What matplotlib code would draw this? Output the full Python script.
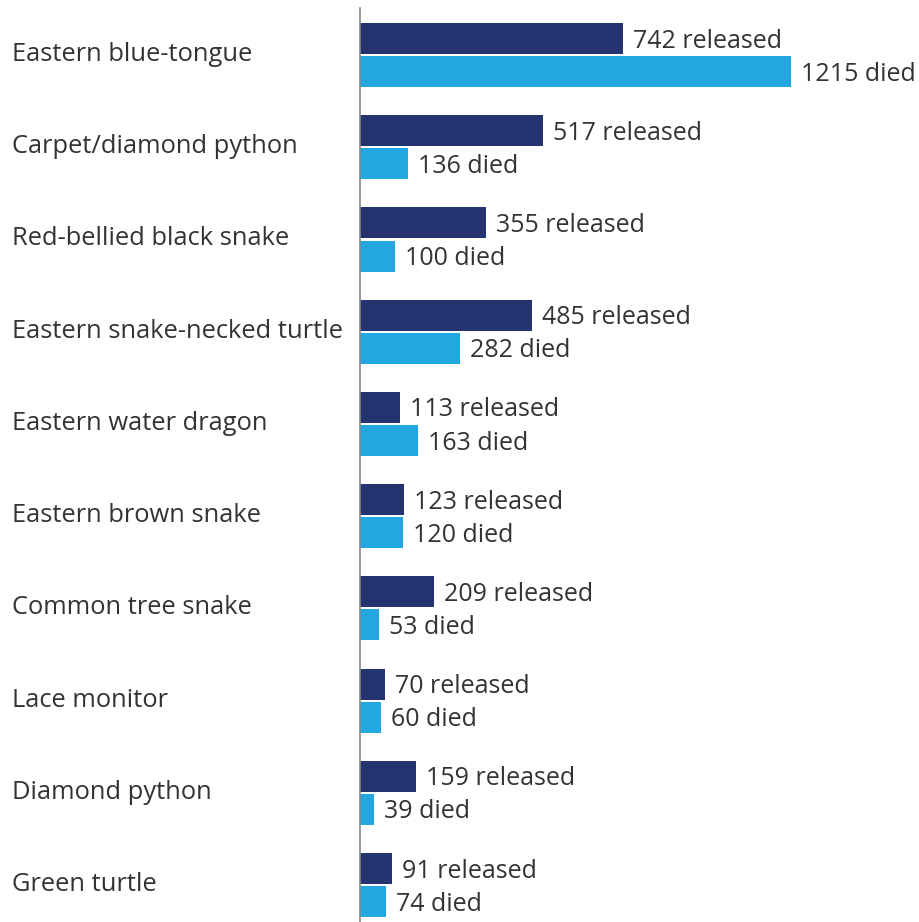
import matplotlib.pyplot as plt
import numpy as np

species = ["Eastern blue-tongue", "Carpet/diamond python", "Red-bellied black snake",
           "Eastern snake-necked turtle", "Eastern water dragon", "Eastern brown snake",
           "Common tree snake", "Lace monitor", "Diamond python", "Green turtle"]
released = [742, 517, 355, 485, 113, 123, 209, 70, 159, 91]
died = [1215, 136, 100, 282, 163, 120, 53, 60, 39, 74]

navy = "#253470"
sky = "#23a7e0"
txt = "#333333"

plt.rcParams['font.family'] = ["Open Sans", "DejaVu Sans"]

fig = plt.figure(figsize=(9.2, 9.22), dpi=100)
ax = fig.add_axes([360 / 920, 0, 1 - 360 / 920, 914 / 922])

px = 0.3547  # pixels per count
y = np.arange(len(species))
h = 0.336
off = 0.179
ax.barh(y - off, released, height=h, color=navy)
ax.barh(y + off, died, height=h, color=sky)

for i in range(len(species)):
    ax.text(released[i] + 10 / px, y[i] - off + 0.098, "%d released" % released[i],
            va="baseline", ha="left", fontsize=18, color=txt)
    ax.text(died[i] + 10 / px, y[i] + off + 0.098, "%d died" % died[i],
            va="baseline", ha="left", fontsize=18, color=txt)
    ax.text(-348 / px, y[i] + 0.065, species[i], va="baseline", ha="left",
            fontsize=18.4, color=txt)

ax.set_xlim(0, 560 / px)
ax.set_ylim(9.40, -0.51)
for s in ["top", "right", "bottom"]:
    ax.spines[s].set_visible(False)
ax.spines["left"].set_color("#888888")
ax.spines["left"].set_linewidth(1.2)
ax.set_xticks([])
ax.set_yticks([])

fig.savefig("out.png", dpi=100)
